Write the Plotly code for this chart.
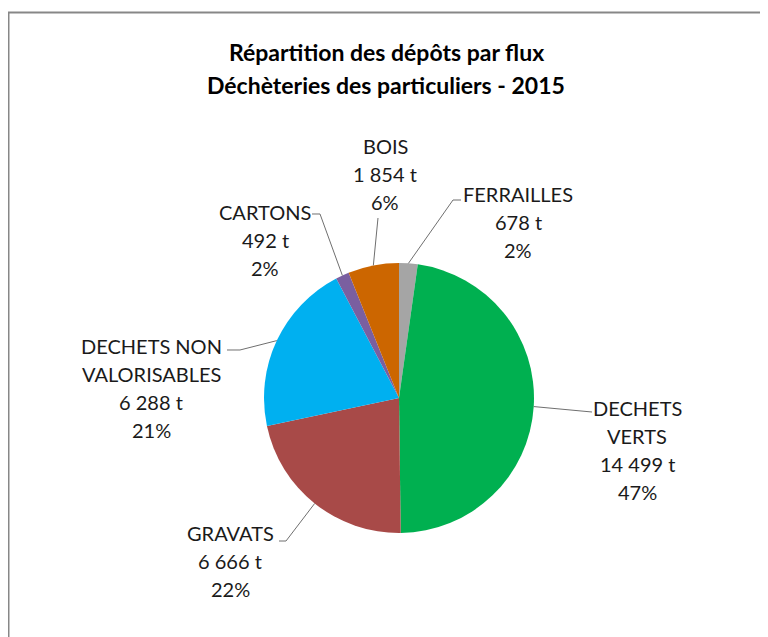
import math
import plotly.graph_objects as go

# ---- data ----
categories = ["FERRAILLES", "DECHETS VERTS", "GRAVATS", "DECHETS NON VALORISABLES", "CARTONS", "BOIS"]
label_names = ["FERRAILLES", "DECHETS<br>VERTS", "GRAVATS", "DECHETS NON<br>VALORISABLES", "CARTONS", "BOIS"]
tonnages = [678, 14499, 6666, 6288, 492, 1854]
percent_labels = ["2%", "47%", "22%", "21%", "2%", "6%"]
colors = ["#A5A5A5", "#00B050", "#A84A48", "#00B0F0", "#7A5FA0", "#CC6600"]
title_lines = ["Répartition des dépôts par flux", "Déchèteries des particuliers - 2015"]

# ---- layout geometry (page pixels; the page body has an 8px margin) ----
OFF = 8
W, H = 768 - OFF, 637 - OFF
CX, CY, R = 399, 398, 135
FONT = "Lato"
TXT = "#1a1a1a"
PITCH = 28

# label block: (center x, first line y), leader path after edge point
label_layout = {
    "FERRAILLES": ((518, 194), [(453, 200), (461, 200)]),
    "DECHETS VERTS": ((637, 408), [(592, 412)]),
    "GRAVATS": ((230, 533), [(286, 541), (279, 541)]),
    "DECHETS NON VALORISABLES": ((151, 346), [(240, 350), (227, 350)]),
    "CARTONS": ((265, 212), [(320, 214), (312, 214)]),
    "BOIS": ((385, 146), [(378, 218)]),
}


def fx(x):
    return (x - OFF) / W


def fy(y):
    return 1 - (y - OFF) / H


fig = go.Figure(go.Pie(
    labels=categories,
    values=tonnages,
    sort=False,
    direction="clockwise",
    rotation=0,
    marker=dict(colors=colors, line=dict(width=0)),
    textinfo="none",
    hoverinfo="label+value+percent",
    domain=dict(x=[fx(CX - R), fx(CX + R)], y=[fy(CY + R), fy(CY - R)]),
    showlegend=False,
))

annotations = []
shapes = []

# title
for i, t in enumerate(title_lines):
    annotations.append(dict(
        x=fx(386), y=fy(52 + 33 * i), xref="paper", yref="paper",
        text=f"<b>{t}</b>", showarrow=False, xanchor="center", yanchor="middle",
        font=dict(family=FONT, size=23, color="#000000"),
    ))

total = sum(tonnages)
cum = 0
for cat, name, v, pct in zip(categories, label_names, tonnages, percent_labels):
    mid = (cum + v / 2) / total * 2 * math.pi
    cum += v
    ex = CX + R * math.sin(mid)
    ey = CY - R * math.cos(mid)
    (lx, ly), leader = label_layout[cat]
    lines = name.split("<br>") + [f"{v:,} t".replace(",", " "), pct]
    for j, ln in enumerate(lines):
        annotations.append(dict(
            x=fx(lx), y=fy(ly + PITCH * j), xref="paper", yref="paper",
            text=ln, showarrow=False, xanchor="center", yanchor="middle",
            font=dict(family=FONT, size=20, color=TXT),
        ))
    pts = [(ex, ey)] + leader
    path = "M " + " L ".join(f"{fx(x):.5f},{fy(y):.5f}" for x, y in pts)
    shapes.append(dict(type="path", path=path, xref="paper", yref="paper",
                       line=dict(color="#6f6f6f", width=1)))

# chart frame (left and top edges visible)
shapes.append(dict(type="rect", xref="paper", yref="paper",
                   x0=fx(8.5), y0=fy(700), x1=fx(800), y1=fy(12.5),
                   line=dict(color="#878787", width=2), fillcolor="rgba(0,0,0,0)"))

fig.update_layout(
    width=W, height=H,
    margin=dict(l=0, r=0, t=0, b=0),
    paper_bgcolor="white", plot_bgcolor="white",
    annotations=annotations, shapes=shapes,
    font=dict(family=FONT),
)

fig.write_html("out.html")
